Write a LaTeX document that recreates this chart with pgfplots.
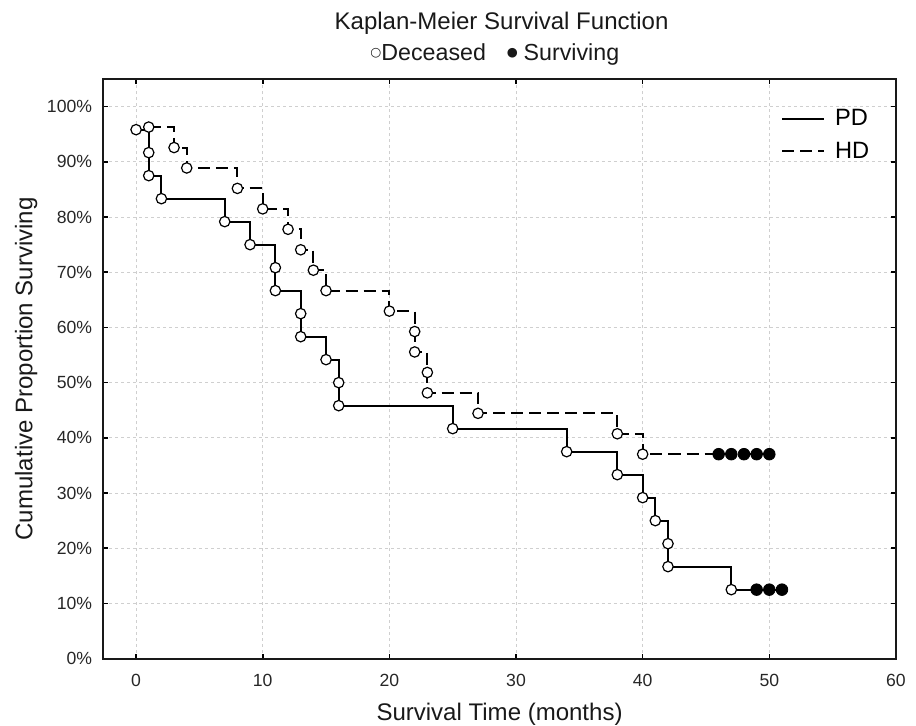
\documentclass[border=0pt]{standalone}
\usepackage{fontspec}
\setmainfont{Liberation Sans}
\newfontfamily\symfont{DejaVu Sans}
\usepackage{pgfplots}
\pgfplotsset{compat=1.18}
\definecolor{gridgray}{HTML}{CFCFCF}

\begin{document}
\begin{tikzpicture}
\begin{axis}[
    width=396pt, height=289.5pt, scale only axis,
    xmin=-2.6, xmax=60, ymin=0, ymax=105,
    xtick={0,10,...,60},
    ytick={0,10,...,100},
    yticklabel={\pgfmathprintnumber{\tick}\%},
    /pgf/number format/assume math mode=true,
    ticklabel style={font=\fontsize{8.8}{10}\selectfont, text=black!85},
    xticklabel style={yshift=-4pt},
    yticklabel style={xshift=-2pt},
    tick align=inside,
    major tick length=2.5pt,
    tick style={black, line width=0.8pt},
    axis line style={black!90, line width=1pt},
    grid=major,
    major grid style={draw=gridgray, dash pattern=on 1.5pt off 1.5pt, line width=0.4pt},
    xlabel={Survival Time (months)},
    ylabel={Cumulative Proportion Surviving},
    label style={font=\fontsize{12}{14}\selectfont, text=black!90},
    xlabel style={at={(axis description cs:0.5,-0.1071)}, anchor=base},
    ylabel style={at={(axis description cs:-0.0972,0.5)}, anchor=center},
    legend style={at={(axis description cs:0.987,0.962)}, anchor=north east,
        draw=none, fill=none, font=\fontsize{11.8}{13}\selectfont,
        row sep=2.5pt,
        nodes={inner xsep=5pt}},
    legend cell align=left,
    legend image code/.code={\draw[#1] (0pt,0pt) -- (21pt,0pt);},
    clip=false,
]

% step functions
\addplot[const plot, black, line width=1pt] coordinates {
    (0,95.83) (1,87.5) (2,83.33) (7,79.17) (9,75) (11,66.67) (13,58.33)
    (15,54.17) (16,45.83) (25,41.67) (34,37.5) (38,33.33) (40,29.17)
    (41,25) (42,16.67) (47,12.5) (51,12.5)
};
\addplot[const plot, black, line width=1pt, dash pattern=on 6pt off 3pt] coordinates {
    (1,96.3) (3,92.59) (4,88.89) (8,85.19) (10,81.48) (12,77.78) (13,74.07)
    (14,70.37) (15,66.67) (20,62.96) (22,55.56) (23,48.15) (27,44.44)
    (38,40.74) (40,37.04) (50,37.04)
};
\legend{PD, HD}

% deceased (open) markers
\addplot[only marks, mark=*, mark size=2.6pt,
         mark options={fill=white, draw=black, line width=0.6pt}, forget plot] coordinates {
    (0,95.83) (1,91.67) (1,87.5) (2,83.33) (7,79.17) (9,75) (11,70.83)
    (11,66.67) (13,62.5) (13,58.33) (15,54.17) (16,50) (16,45.83)
    (25,41.67) (34,37.5) (38,33.33) (40,29.17) (41,25) (42,20.83)
    (42,16.67) (47,12.5)
};
\addplot[only marks, mark=*, mark size=2.6pt,
         mark options={fill=white, draw=black, line width=0.6pt}, forget plot] coordinates {
    (1,96.3) (3,92.59) (4,88.89) (8,85.19) (10,81.48) (12,77.78) (13,74.07)
    (14,70.37) (15,66.67) (20,62.96) (22,59.26) (22,55.56) (23,51.85)
    (23,48.15) (27,44.44) (38,40.74) (40,37.04)
};
% surviving (filled) markers
\addplot[only marks, mark=*, mark size=2.9pt, black, forget plot] coordinates {
    (49,12.5) (50,12.5) (51,12.5)
};
\addplot[only marks, mark=*, mark size=2.9pt, black, forget plot] coordinates {
    (46,37.04) (47,37.04) (48,37.04) (49,37.04) (50,37.04)
};

\node[font=\fontsize{12}{14}\selectfont, text=black!90]
    at (axis description cs:0.5025,1.0967) {Kaplan-Meier Survival Function};
\node[font=\fontsize{11.6}{14}\selectfont, text=black!90]
    at (axis description cs:0.494,1.0415)
    {\raisebox{2.2pt}{\symfont\fontsize{6.3}{7}\selectfont ○}Deceased\hspace{0.9em}\raisebox{2.2pt}{\symfont\fontsize{6.3}{7}\selectfont ●}\hspace{0.25em}Surviving};

\coordinate (bbsw) at (axis description cs:-0.1301,-0.1157);
\coordinate (bbne) at (axis description cs:1.0253,1.1364);
\end{axis}
\pgfresetboundingbox
\path (bbsw) rectangle (bbne);
\end{tikzpicture}
\end{document}
